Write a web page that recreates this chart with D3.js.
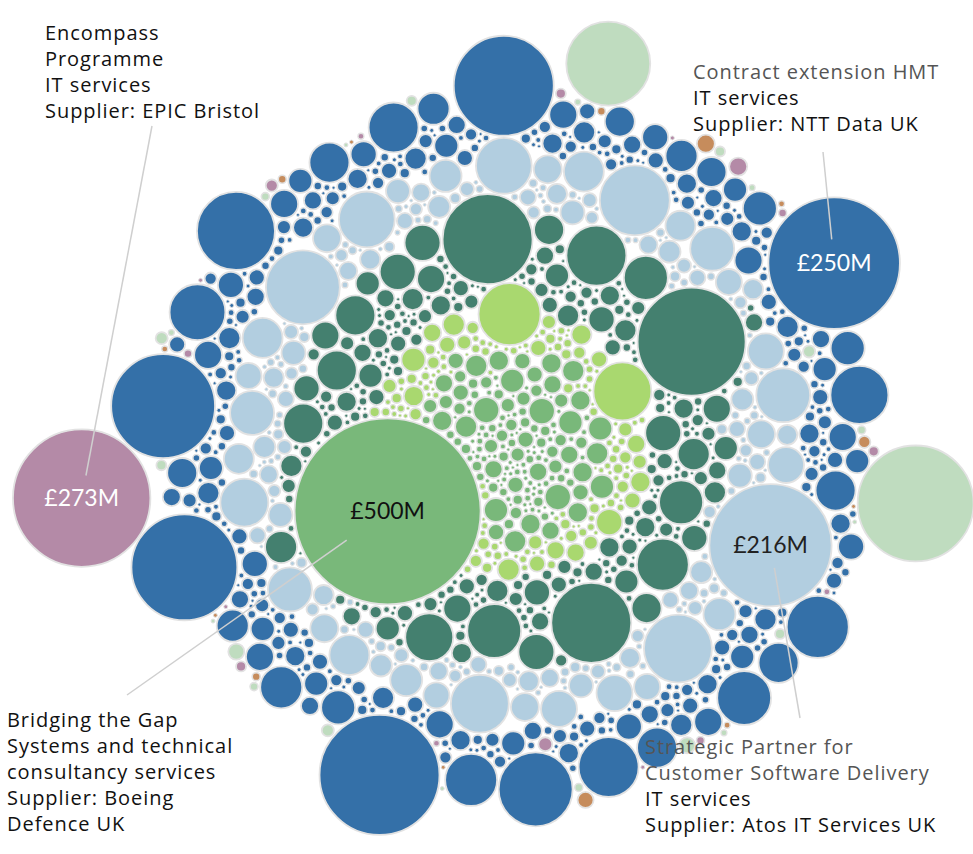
<!DOCTYPE html>
<html><head><meta charset="utf-8">
<script src="https://cdn.jsdelivr.net/npm/d3@7"></script>
<style>
html,body{margin:0;padding:0;background:#fff;}
svg{display:block;}
text{font-family:Lato,"Open Sans",sans-serif;}
.ann{font-family:"Open Sans",Lato,sans-serif;letter-spacing:0.95px;}
</style></head><body>
<svg id="chart" width="973" height="854"></svg>
<script>
// ================= DATA (contract values, £M) =================
const categories = ["Green","Lime","Teal","LightBlue","DarkBlue","Purple","PaleGreen","Orange"];

// individually read larger contracts per category (in reading order)
const greenValues = [500];
const limeValues = [55.6, 9.8, 8.3, 48.6, 7.0, 7.0];
const tealValues = [168.6, 42, 18.7, 28, 23.1, 52, 92.5, 23.1, 18.7, 33.3, 117, 39, 23.1, 28, 18.7, 18.7];
const lightBlueValues = [216, 33.3, 70.8, 18.7, 79, 42, 23.1, 45, 66.8, 28, 28, 48.6, 45, 18.7, 28, 23.1, 18.7, 23.1, 18.7];
const darkBlueValues = [250, 208, 36, 55.6, 162, 14.8, 52, 88, 48.6, 25.5, 144.5, 42, 156, 16.7, 39, 23.1, 23.1, 14.8, 13, 23.1, 45, 16.7, 16.7, 14.8, 23.1, 13, 13, 79];
const purpleValues = [273, 4.7, 2.8, 2.1, 1.45, 1.45, 1.45, 0.92, 0.92, 0.92, 0.52, 0.52, 0.52, 0.23, 0.23, 0.23, 0.23];
const paleGreenValues = [194, 3.7, 102, 3.7, 2.1, 2.1, 2.1, 1.45, 1.45, 1.45, 1.45, 0.92, 0.92, 0.92, 0.92, 0.52, 0.52, 0.52, 0.52, 0.23, 0.23, 0.23, 0.23];
const orangeValues = [4.7, 3.7, 0.92, 2.1, 0.92, 0.92, 0.52, 0.52, 0.52, 0.23, 0.23, 0.23, 0.23];

// smaller contracts, read as [value £M, how many] per category
const greenSmall = [[9.8,3],[8.3,5],[7.0,5],[5.8,7],[4.7,6],[3.7,8],[2.8,8],[2.1,10],[1.45,12],[0.92,14],[0.52,18],[0.36,18],[0.23,22],[0.13,22]];
const limeSmall = [[5.8,3],[4.7,4],[3.7,5],[2.8,7],[2.1,9],[1.45,11],[0.92,14],[0.71,14],[0.52,18],[0.36,18],[0.23,22],[0.13,22]];
const tealSmall = [[14.8,2],[13.0,2],[11.3,4],[9.8,4],[8.3,6],[7.0,6],[5.8,8],[4.7,8],[3.7,12],[2.8,12],[2.1,15],[1.45,16],[0.92,22],[0.71,20],[0.52,26],[0.36,26],[0.23,34],[0.13,34]];
const lightBlueSmall = [[14.8,3],[13.0,2],[11.3,5],[9.8,4],[8.3,6],[7.0,6],[5.8,8],[4.7,7],[3.7,10],[2.8,10],[2.1,12],[1.45,12],[0.92,16],[0.71,15],[0.52,20],[0.36,20],[0.23,26],[0.13,26]];
const darkBlueSmall = [[11.3,8],[9.8,6],[8.3,10],[7.0,8],[5.8,12],[4.7,12],[3.7,18],[2.8,18],[2.1,22],[1.45,25],[0.92,30],[0.71,30],[0.52,35],[0.36,35],[0.23,40],[0.13,40]];

const colors = {Green:"#79b87a", Lime:"#a9d86f", Teal:"#44806f", LightBlue:"#b2cee0", DarkBlue:"#3470a8", Purple:"#b48aa7", PaleGreen:"#bfdcbf", Orange:"#c68c5c"};

// annotated contracts
const annTexts = [
  {cat:"Purple", value:273, label:"£273M", grey:[], lines:["Encompass","Programme","IT services","Supplier: EPIC Bristol"]},
  {cat:"DarkBlue", value:250, label:"£250M", grey:["Contract extension HMT"], lines:["IT services","Supplier: NTT Data UK"]},
  {cat:"Green", value:500, label:"£500M", grey:[], lines:["Bridging the Gap","Systems and technical","consultancy services","Supplier: Boeing","Defence UK"]},
  {cat:"LightBlue", value:216, label:"£216M", grey:["Strategic Partner for","Customer Software Delivery"], lines:["IT services","Supplier: Atos IT Services UK"]}
];

// ================= LAYOUT =================
const W = 973, H = 854, cx = 514, cy = 440;
const rScale = d3.scaleSqrt().domain([0, 500]).range([0, 93]);
const ring = {Green:[0,1.45], Lime:[70,1.2], Teal:[175,0.35], LightBlue:[246,0.45], DarkBlue:[303,0.82], Purple:[335,1.45], PaleGreen:[335,1.15], Orange:[335,1.2]};
const spread = {Green:70, Lime:60, Teal:80, LightBlue:50, DarkBlue:50, Purple:20, PaleGreen:20, Orange:20};
const deg = Math.PI / 180;
const phase = {Green:235*deg, Lime:3*deg, Teal:61*deg, LightBlue:115*deg, DarkBlue:63*deg, Purple:262*deg, PaleGreen:99*deg, Orange:34*deg};

const groups = {
  Green:[greenValues, greenSmall], Lime:[limeValues, limeSmall], Teal:[tealValues, tealSmall],
  LightBlue:[lightBlueValues, lightBlueSmall], DarkBlue:[darkBlueValues, darkBlueSmall],
  Purple:[purpleValues, []], PaleGreen:[paleGreenValues, []], Orange:[orangeValues, []]
};

const nodes = [];
const GA = Math.PI * (3 - Math.sqrt(5));
categories.forEach(cat => {
  const [vals, small] = groups[cat];
  const list = vals.slice();
  small.forEach(([v, n]) => { for (let i = 0; i < n; i++) list.push(v); });
  list.forEach((v, j) => {
    const r = rScale(v);
    const target = ring[cat][0] + ring[cat][1] * r;
    const f = (j * 0.6180339) % 1;
    let rad = cat === "Green" ? Math.max(target, spread.Green * Math.sqrt(f)) : Math.max(0, target + (f - 0.5) * spread[cat]);
    if (j === 0) rad = target;
    const a = phase[cat] + j * GA;
    nodes.push({cat, value:v, r, target, x: cx + rad * Math.sin(a), y: cy - rad * Math.cos(a)});
  });
});

const sim = d3.forceSimulation(nodes)
  .force("radial", d3.forceRadial(d => d.target, cx, cy).strength(0.12))
  .force("collide", d3.forceCollide(d => d.r + 1.1).strength(0.85).iterations(3))
  .velocityDecay(0.35)
  .alphaDecay(1 - Math.pow(0.001, 1 / 380))
  .stop();
for (let i = 0; i < 420; i++) sim.tick();

// ================= DRAW =================
const svg = d3.select("#chart");
svg.append("g").selectAll("circle").data(nodes).join("circle")
  .attr("cx", d => d.x).attr("cy", d => d.y).attr("r", d => d.r)
  .attr("fill", d => colors[d.cat])
  .attr("stroke", "#e2e2e2").attr("stroke-width", d => Math.min(1.8, 0.4 + d.r * 0.3));

const annLayout = [
  {x:45, y:40, ax:152, ay:126, gap:23, fill:"#fff"},
  {x:693, y:79, ax:823, ay:152, gap:24, fill:"#fff"},
  {x:7, y:727, ax:127, ay:695, gap:50, fill:"#111"},
  {x:645, y:754, ax:800, ay:718, gap:23, fill:"#222"}
];
const lineH = 26;
annTexts.forEach((a, i) => {
  const L = annLayout[i];
  const node = nodes.find(n => n.cat === a.cat && n.value === a.value);
  const dx = L.ax - node.x, dy = L.ay - node.y, len = Math.hypot(dx, dy);
  svg.append("line")
    .attr("x1", L.ax).attr("y1", L.ay)
    .attr("x2", node.x + dx / len * L.gap).attr("y2", node.y + dy / len * L.gap)
    .attr("stroke", "#cfcfcf").attr("stroke-width", 1.5);
  svg.append("text").attr("x", node.x).attr("y", node.y + 8)
    .attr("text-anchor", "middle").attr("font-size", 23).attr("fill", L.fill).text(a.label);
  const t = svg.append("text").attr("class", "ann").attr("x", L.x).attr("y", L.y).attr("font-size", 20);
  a.grey.concat(a.lines).forEach((s, k) => {
    t.append("tspan").attr("x", L.x).attr("y", L.y + k * lineH)
      .attr("fill", k < a.grey.length ? "#555" : "#111").text(s);
  });
});
</script>
</body></html>
